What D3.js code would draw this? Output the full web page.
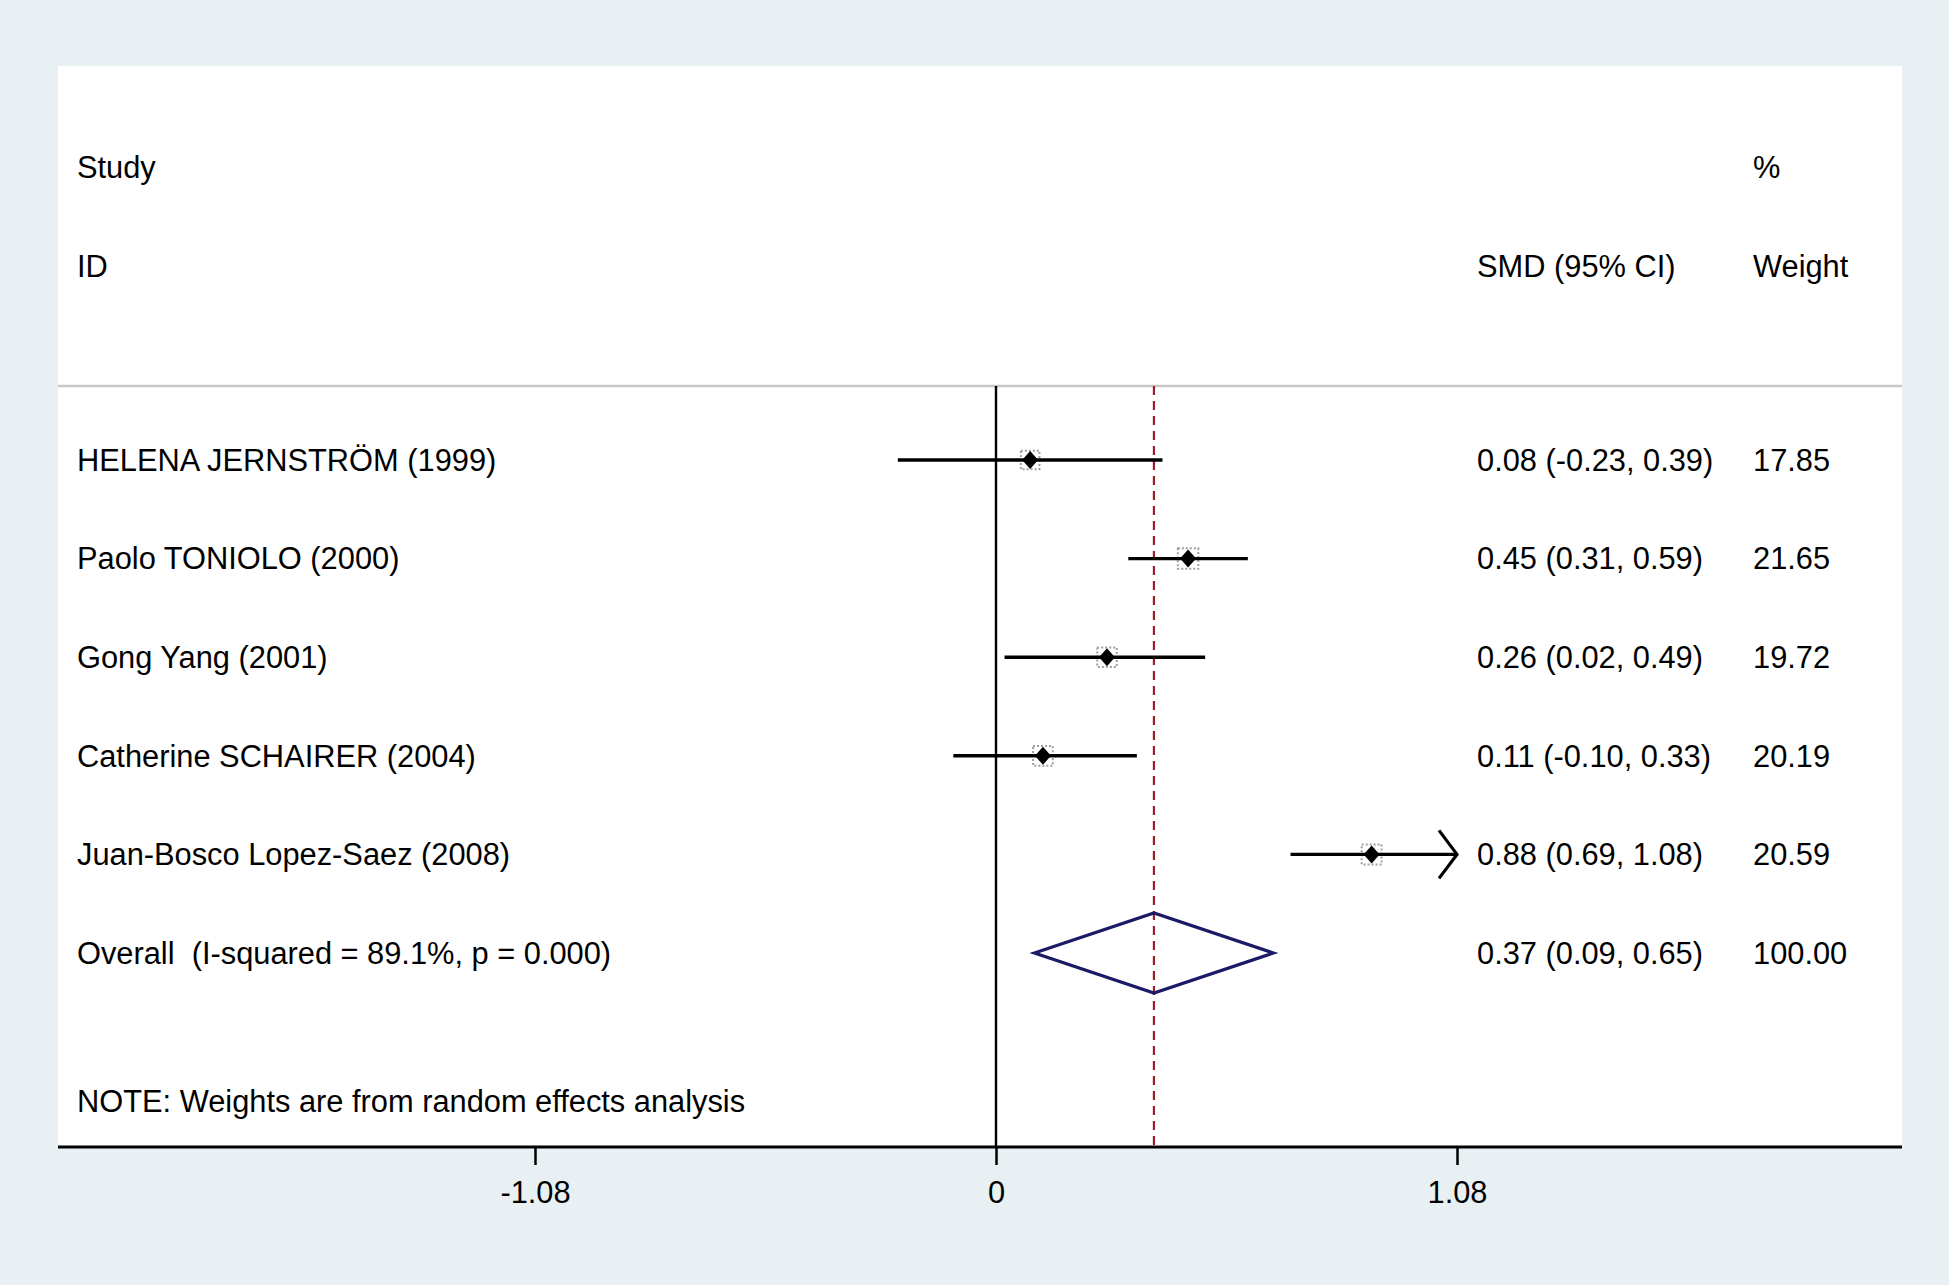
<!DOCTYPE html>
<html>
<head>
<meta charset="utf-8">
<script src="https://cdn.jsdelivr.net/npm/d3@7"></script>
<style>
  body { margin: 0; background: #e8f0f3; }
  svg text { font-family: "Liberation Sans", Arial, sans-serif; fill: #000; white-space: pre; }
</style>
</head>
<body>
<div id="forest"></div>
<script>
// study data
var studies = ["HELENA JERNSTRÖM (1999)", "Paolo TONIOLO (2000)", "Gong Yang (2001)",
               "Catherine SCHAIRER (2004)", "Juan-Bosco Lopez-Saez (2008)"];
var smd = [0.08, 0.45, 0.26, 0.11, 0.88];
var lower = [-0.23, 0.31, 0.02, -0.10, 0.69];
var upper = [0.39, 0.59, 0.49, 0.33, 1.08];
var ciText = ["0.08 (-0.23, 0.39)", "0.45 (0.31, 0.59)", "0.26 (0.02, 0.49)",
              "0.11 (-0.10, 0.33)", "0.88 (0.69, 1.08)"];
var weights = ["17.85", "21.65", "19.72", "20.19", "20.59"];

var overallLabel = "Overall  (I-squared = 89.1%, p = 0.000)";
var overallEst = [0.09, 0.37, 0.65];
var overallText = "0.37 (0.09, 0.65)";
var overallWeight = "100.00";

var tickValues = [-1.08, 0, 1.08];
var tickLabels = ["-1.08", "0", "1.08"];

// svg size
var svgWidth = 1949;
var svgHeight = 1285;

var panel = { left: 58, right: 1902, top: 66, bottom: 1147 };

var svg = d3.select("#forest")
    .append("svg")
    .attr("width", svgWidth)
    .attr("height", svgHeight);

svg.append("rect")
    .attr("width", svgWidth)
    .attr("height", svgHeight)
    .attr("fill", "#e8f0f3");

svg.append("rect")
    .attr("x", panel.left)
    .attr("y", panel.top)
    .attr("width", panel.right - panel.left)
    .attr("height", panel.bottom - panel.top)
    .attr("fill", "#ffffff");

// scales
var x = d3.scaleLinear()
    .domain([-1.08, 1.08])
    .range([535, 1457]);

var y = d3.scaleLinear()
    .domain([0, 5])
    .range([460, 953]);

var boxSize = d3.scaleSqrt()
    .domain([0, 100])
    .range([0, 44]);

var fontSize = "30.8px";
var labelX = 77, ciX = 1477, wX = 1753;

// header
var header = svg.append("g").attr("font-size", fontSize);
header.append("text").attr("x", labelX).attr("y", 167).attr("dy", "0.35em").text("Study");
header.append("text").attr("x", labelX).attr("y", 266).attr("dy", "0.35em").text("ID");
header.append("text").attr("x", ciX).attr("y", 266).attr("dy", "0.35em").text("SMD (95% CI)");
header.append("text").attr("x", wX).attr("y", 167).attr("dy", "0.35em").text("%");
header.append("text").attr("x", wX).attr("y", 266).attr("dy", "0.35em").text("Weight");

svg.append("line")
    .attr("x1", panel.left).attr("x2", panel.right)
    .attr("y1", 386).attr("y2", 386)
    .attr("stroke", "#c8c8c8")
    .attr("stroke-width", 2.5);

// reference lines
svg.append("line")
    .attr("x1", x(0)).attr("x2", x(0))
    .attr("y1", 386).attr("y2", panel.bottom)
    .attr("stroke", "#000")
    .attr("stroke-width", 2.4);

svg.append("line")
    .attr("x1", x(overallEst[1])).attr("x2", x(overallEst[1]))
    .attr("y1", 386).attr("y2", panel.bottom)
    .attr("stroke", "#9a1f2a")
    .attr("stroke-width", 2.2)
    .attr("stroke-dasharray", "9,6");

// study rows
var rows = svg.append("g");
var idx = d3.range(studies.length);

// weight boxes
rows.selectAll("rect.wbox")
    .data(idx)
    .enter()
    .append("rect")
    .attr("class", "wbox")
    .attr("x", i => x(smd[i]) - boxSize(+weights[i]) / 2)
    .attr("y", i => y(i) - boxSize(+weights[i]) / 2)
    .attr("width", i => boxSize(+weights[i]))
    .attr("height", i => boxSize(+weights[i]))
    .attr("fill", "none")
    .attr("stroke", "#a0a0a0")
    .attr("stroke-width", 2)
    .attr("stroke-dasharray", "2,2");

// CI lines (clip at axis max and draw an arrow)
var xMax = x.domain()[1];
rows.selectAll("line.ci")
    .data(idx)
    .enter()
    .append("line")
    .attr("x1", i => x(lower[i]))
    .attr("x2", i => x(Math.min(upper[i], xMax)))
    .attr("y1", i => y(i))
    .attr("y2", i => y(i))
    .attr("stroke", "#000")
    .attr("stroke-width", 3.4);

rows.selectAll("path.arrow")
    .data(idx.filter(i => upper[i] >= xMax))
    .enter()
    .append("path")
    .attr("d", i => {
        var tx = x(xMax), ty = y(i);
        return "M" + (tx - 18) + "," + (ty - 24) + "L" + tx + "," + ty + "L" + (tx - 18) + "," + (ty + 24);
    })
    .attr("fill", "none")
    .attr("stroke", "#000")
    .attr("stroke-width", 3.2);

// point estimate diamonds
rows.selectAll("path.pt")
    .data(idx)
    .enter()
    .append("path")
    .attr("d", i => {
        var cx = x(smd[i]), cy = y(i);
        return "M" + (cx - 8) + "," + cy + "L" + cx + "," + (cy - 9) + "L" + (cx + 8) + "," + cy + "L" + cx + "," + (cy + 9) + "Z";
    })
    .attr("fill", "#000");

// text columns
var txt = svg.append("g").attr("font-size", fontSize);
txt.selectAll("text.lab")
    .data(idx)
    .enter()
    .append("text")
    .attr("x", labelX)
    .attr("y", i => y(i))
    .attr("dy", "0.35em")
    .text(i => studies[i]);

txt.selectAll("text.ci")
    .data(idx)
    .enter()
    .append("text")
    .attr("x", ciX)
    .attr("y", i => y(i))
    .attr("dy", "0.35em")
    .text(i => ciText[i]);

txt.selectAll("text.w")
    .data(idx)
    .enter()
    .append("text")
    .attr("x", wX)
    .attr("y", i => y(i))
    .attr("dy", "0.35em")
    .text(i => weights[i]);

// overall
var oy = y(5);
svg.append("path")
    .attr("d", "M" + x(overallEst[0]) + "," + oy +
               "L" + x(overallEst[1]) + "," + (oy - 40) +
               "L" + x(overallEst[2]) + "," + oy +
               "L" + x(overallEst[1]) + "," + (oy + 40) + "Z")
    .attr("fill", "none")
    .attr("stroke", "#1a1a66")
    .attr("stroke-width", 3.2);

txt.append("text").attr("x", labelX).attr("y", oy).attr("dy", "0.35em").text(overallLabel);
txt.append("text").attr("x", ciX).attr("y", oy).attr("dy", "0.35em").text(overallText);
txt.append("text").attr("x", wX).attr("y", oy).attr("dy", "0.35em").text(overallWeight);

txt.append("text").attr("x", labelX).attr("y", 1101).attr("dy", "0.35em")
    .text("NOTE: Weights are from random effects analysis");

// x axis
var xAxis = d3.axisBottom(x)
    .tickValues(tickValues)
    .tickFormat((d, i) => tickLabels[i])
    .tickSize(18)
    .tickPadding(16);

var axisG = svg.append("g")
    .attr("transform", `translate(0, ${panel.bottom})`)
    .call(xAxis);

axisG.select(".domain").remove();
axisG.selectAll(".tick line").attr("stroke", "#000").attr("stroke-width", 2.5);
axisG.selectAll(".tick text")
    .attr("font-size", fontSize)
    .attr("font-family", "Liberation Sans, Arial, sans-serif")
    .attr("fill", "#000");

svg.append("line")
    .attr("x1", panel.left).attr("x2", panel.right)
    .attr("y1", panel.bottom).attr("y2", panel.bottom)
    .attr("stroke", "#000")
    .attr("stroke-width", 3);
</script>
</body>
</html>
